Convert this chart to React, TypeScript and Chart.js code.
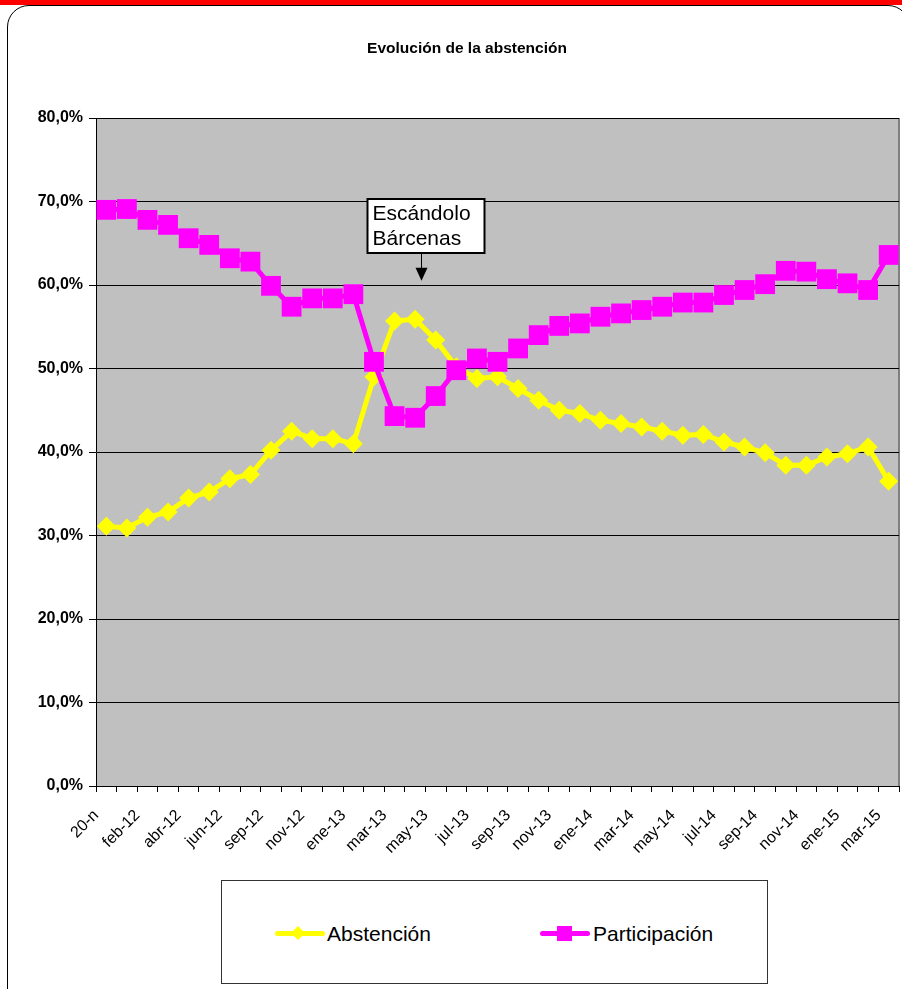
import React, { useEffect, useRef } from 'react';
import { Chart, registerables } from 'chart.js';

Chart.register(...registerables);

const FONT = '"Liberation Sans", Arial, sans-serif';

const title = 'Evolución de la abstención';

const categories = [
  '20-n', 'ene-12', 'feb-12', 'mar-12', 'abr-12', 'may-12', 'jun-12', 'jul-12',
  'sep-12', 'oct-12', 'nov-12', 'dic-12', 'ene-13', 'feb-13', 'mar-13', 'abr-13',
  'may-13', 'jun-13', 'jul-13', 'ago-13', 'sep-13', 'oct-13', 'nov-13', 'dic-13',
  'ene-14', 'feb-14', 'mar-14', 'abr-14', 'may-14', 'jun-14', 'jul-14', 'ago-14',
  'sep-14', 'oct-14', 'nov-14', 'dic-14', 'ene-15', 'feb-15', 'mar-15',
];

const abstencion = [
  31.1, 30.9, 32.2, 32.8, 34.5, 35.2, 36.8, 37.3,
  40.2, 42.5, 41.6, 41.6, 41.0, 49.0, 55.7, 55.9,
  53.4, 50.2, 48.8, 49.0, 47.6, 46.2, 45.0, 44.6,
  43.8, 43.4, 43.0, 42.5, 42.0, 42.1, 41.2, 40.6,
  39.9, 38.4, 38.4, 39.4, 39.8, 40.6, 36.5,
];

const participacion = [
  69.0, 69.1, 67.8, 67.2, 65.6, 64.8, 63.2, 62.8,
  59.9, 57.4, 58.4, 58.4, 58.9, 50.8, 44.3, 44.1,
  46.7, 49.8, 51.2, 50.8, 52.4, 54.0, 55.1, 55.4,
  56.2, 56.6, 57.0, 57.4, 57.9, 57.9, 58.8, 59.4,
  60.1, 61.7, 61.6, 60.7, 60.2, 59.4, 63.6,
];

const seriesNames = ['Abstención', 'Participación'];
const seriesColors = ['#FFFF00', '#FF00FF'];

const yMin = 0;
const yMax = 80;
const yStep = 10;

const annotationLines = ['Escándolo', 'Bárcenas'];
const annotationIndex = 15.28; // category position of the arrow
const annotationTip = 60.5; // value where the arrow points
const annotationBoxBottom = 63.8;

const plotBackground = {
  id: 'plotBackground',
  beforeDraw(chart: any) {
    const { ctx, chartArea: a } = chart;
    ctx.save();
    ctx.fillStyle = '#C0C0C0';
    ctx.fillRect(a.left, a.top, a.right - a.left, a.bottom - a.top);
    ctx.strokeStyle = '#808080';
    ctx.lineWidth = 2;
    ctx.beginPath();
    ctx.moveTo(a.right, a.top);
    ctx.lineTo(a.right, a.bottom);
    ctx.stroke();
    ctx.restore();
  },
};

const annotation = {
  id: 'annotation',
  afterDatasetsDraw(chart: any) {
    const { ctx } = chart;
    const xs = chart.scales.x;
    const ys = chart.scales.y;
    const x = Math.round(xs.getPixelForValue(annotationIndex)) + 0.5;
    const tip = ys.getPixelForValue(annotationTip);
    const bottom = Math.round(ys.getPixelForValue(annotationBoxBottom));
    const left = x - 54;
    const w = 117;
    const h = 54;
    const top = bottom - h;
    ctx.save();
    ctx.fillStyle = '#FFFFFF';
    ctx.fillRect(left, top, w, h);
    ctx.strokeStyle = '#000000';
    ctx.lineWidth = 2;
    ctx.strokeRect(left, top, w, h);
    ctx.fillStyle = '#000000';
    ctx.font = `21px ${FONT}`;
    ctx.textAlign = 'left';
    ctx.textBaseline = 'middle';
    ctx.fillText(annotationLines[0], left + 5, top + 15);
    ctx.fillText(annotationLines[1], left + 5, top + 40);
    ctx.lineWidth = 1;
    ctx.beginPath();
    ctx.moveTo(x, bottom);
    ctx.lineTo(x, tip - 12);
    ctx.stroke();
    ctx.beginPath();
    ctx.moveTo(x - 6, tip - 13);
    ctx.lineTo(x + 6, tip - 13);
    ctx.lineTo(x, tip);
    ctx.closePath();
    ctx.fill();
    ctx.restore();
  },
};

export default function App() {
  const canvasRef = useRef<HTMLCanvasElement | null>(null);

  useEffect(() => {
    if (!canvasRef.current) return;
    const chart = new Chart(canvasRef.current, {
      type: 'line',
      data: {
        labels: categories,
        datasets: [
          {
            label: seriesNames[0],
            data: abstencion,
            borderColor: seriesColors[0],
            backgroundColor: seriesColors[0],
            borderWidth: 5,
            tension: 0,
            pointStyle: 'rectRot',
            pointRadius: 9.5,
            pointBackgroundColor: seriesColors[0],
            pointBorderWidth: 0,
            borderJoinStyle: 'round',
            borderCapStyle: 'round',
            clip: false,
            order: 1,
          },
          {
            label: seriesNames[1],
            data: participacion,
            borderColor: seriesColors[1],
            backgroundColor: seriesColors[1],
            borderWidth: 5,
            tension: 0,
            pointStyle: 'rect',
            pointRadius: 14,
            pointBackgroundColor: seriesColors[1],
            pointBorderWidth: 0,
            borderJoinStyle: 'round',
            borderCapStyle: 'round',
            clip: false,
            order: 0,
          },
        ],
      },
      options: {
        responsive: false,
        animation: false,
        layout: { autoPadding: false, padding: { top: 118, right: 3, left: 0, bottom: 0 } },
        plugins: {
          legend: { display: false },
          tooltip: { enabled: false },
          title: { display: false },
        },
        scales: {
          x: {
            type: 'category',
            offset: true,
            grid: {
              offset: true,
              drawOnChartArea: false,
              drawTicks: true,
              tickLength: 6,
              color: '#000000',
              lineWidth: 1,
            },
            border: { display: true, color: '#000000', width: 1 },
            ticks: {
              autoSkip: false,
              minRotation: 45,
              maxRotation: 45,
              padding: 14,
              labelOffset: -10,
              color: '#000000',
              font: { family: FONT, size: 16 },
              callback: (_v: any, i: number) => (i % 2 === 0 ? categories[i] : ''),
            },
            afterFit: (s: any) => {
              s.height = 94;
              s.paddingLeft = 0;
              s.paddingRight = 0;
            },
          },
          y: {
            min: yMin,
            max: yMax,
            ticks: {
              stepSize: yStep,
              padding: 6,
              color: '#000000',
              font: { family: FONT, size: 16, weight: 'bold' },
              callback: (v: any) => Number(v).toFixed(1).replace('.', ',') + '%',
            },
            grid: { color: '#000000', lineWidth: 1, tickLength: 7, drawTicks: true },
            border: { display: true, color: '#000000', width: 1 },
            afterFit: (s: any) => {
              s.width = 96;
              s.paddingTop = 0;
              s.paddingBottom = 0;
            },
          },
        },
      },
      plugins: [plotBackground, annotation],
    } as any);
    return () => chart.destroy();
  }, []);

  const legendText: React.CSSProperties = {
    position: 'absolute',
    top: 41,
    height: 24,
    lineHeight: '24px',
    fontFamily: FONT,
    fontSize: 21,
    color: '#000',
    whiteSpace: 'nowrap',
  };

  return (
    <div
      style={{
        position: 'absolute',
        left: 0,
        top: 0,
        width: 902,
        height: 989,
        overflow: 'hidden',
        background: '#FFFFFF',
      }}
    >
      <div style={{ position: 'absolute', left: 0, top: 0, width: 902, height: 5, background: '#FF0000' }} />
      <div
        style={{
          position: 'absolute',
          left: 7,
          top: 5,
          width: 903,
          height: 1100,
          border: '1px solid #000',
          borderRadius: 22,
          boxSizing: 'border-box',
        }}
      />
      <canvas
        ref={canvasRef}
        width={902}
        height={880}
        style={{ position: 'absolute', left: 0, top: 0, display: 'block' }}
      />
      <div
        style={{
          position: 'absolute',
          left: 0,
          top: 39,
          width: 934,
          textAlign: 'center',
          fontFamily: FONT,
          fontWeight: 'bold',
          fontSize: 15.5,
          lineHeight: '18px',
          color: '#000',
        }}
      >
        {title}
      </div>
      <div
        style={{
          position: 'absolute',
          left: 221,
          top: 880,
          width: 547,
          height: 104,
          border: '1px solid #333',
          boxSizing: 'border-box',
          background: '#FFFFFF',
        }}
      >
        <div style={{ position: 'absolute', left: 53, top: 50, width: 50, height: 5, borderRadius: 3, background: seriesColors[0] }} />
        <div
          style={{
            position: 'absolute',
            left: 71,
            top: 47,
            width: 10,
            height: 10,
            background: seriesColors[0],
            transform: 'rotate(45deg)',
          }}
        />
        <div style={{ ...legendText, left: 105 }}>{seriesNames[0]}</div>
        <div style={{ position: 'absolute', left: 318, top: 50, width: 50, height: 5, borderRadius: 3, background: seriesColors[1] }} />
        <div style={{ position: 'absolute', left: 335, top: 45, width: 15, height: 15, background: seriesColors[1] }} />
        <div style={{ ...legendText, left: 371 }}>{seriesNames[1]}</div>
      </div>
    </div>
  );
}
